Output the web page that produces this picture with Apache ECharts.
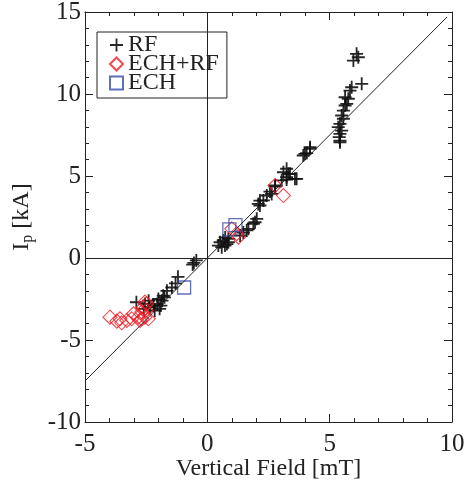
<!DOCTYPE html>
<html>
<head>
<meta charset="utf-8">
<script src="https://cdn.jsdelivr.net/npm/echarts@6/dist/echarts.min.js"></script>
<style>
  html, body { margin: 0; padding: 0; background: #fff; }
  #chart { width: 464px; height: 485px; }
</style>
</head>
<body>
<div id="chart"></div>
<script>
// points: [vertical field mT, Ip kA]
const rfPoints = [
  [-0.55, -0.3], [-0.45, -0.15], [-0.6, -0.4],
  [-1.2, -1.15], [-1.3, -1.55], [-1.45, -1.8], [-1.65, -2.0], [-1.75, -2.4],
  [-1.8, -2.3], [-1.85, -2.6], [-2.05, -2.8], [-2.2, -2.9], [-2.35, -3.0],
  [-2.9, -2.7], [-2.55, -2.8], [-2.6, -3.1], [-1.95, -3.1], [-2.15, -3.2],
  [-2.0, -2.5], [-1.9, -2.9], [-2.4, -2.6],
  [0.45, 0.76], [0.52, 0.96], [0.59, 0.66], [0.65, 1.07], [0.72, 0.76],
  [0.73, 1.25], [0.86, 1.17], [0.86, 0.96], [0.8, 0.85], [1.34, 1.37],
  [1.47, 1.55], [1.61, 1.68], [1.68, 1.78], [1.88, 2.09], [1.95, 2.18],
  [2.02, 2.39], [2.08, 3.3], [2.15, 3.2], [2.15, 3.5], [2.29, 3.51],
  [2.43, 3.81], [2.56, 4.05], [2.63, 3.91], [2.77, 4.35], [2.77, 4.42],
  [3.04, 4.73], [3.24, 4.93], [3.24, 4.78], [3.31, 5.13], [3.11, 5.23],
  [3.24, 5.44], [3.38, 5.13], [3.58, 4.83], [3.65, 4.83], [3.92, 6.25],
  [3.99, 6.35], [4.06, 6.4], [4.2, 6.66], [4.2, 6.76],
  [5.39, 7.37], [5.42, 7.16], [5.42, 7.06], [5.42, 7.57], [5.49, 7.77],
  [5.35, 7.98], [5.42, 8.18], [5.56, 8.49], [5.49, 8.69], [5.56, 8.99],
  [5.63, 9.3], [5.7, 9.4], [5.63, 9.8], [5.76, 9.71], [5.83, 10.21],
  [5.9, 10.41], [6.31, 10.62], [5.97, 12.04], [6.17, 12.24], [6.1, 12.45]
];
const echRfPoints = [
  [-3.98, -3.61], [-3.7, -3.85], [-3.57, -3.71], [-3.5, -3.95], [-3.29, -3.81],
  [-3.09, -3.71], [-3.02, -3.4], [-2.82, -3.61], [-2.75, -3.81], [-2.68, -3.3],
  [-2.68, -3.71], [-2.62, -3.0], [-2.55, -2.69], [-2.48, -2.79], [-2.55, -3.61],
  [-2.41, -3.71], [-2.5, -3.2],
  [1.0, 1.78], [1.2, 1.48], [1.27, 1.27], [2.77, 4.42], [3.11, 3.81]
];
const echPoints = [[-0.95, -1.8], [0.9, 1.75], [1.15, 2.0]];

// fitted line Ip = slope * B, drawn over this field range
const fitSlope = 1.5;
const fitRange = [-5, 9.8];

const xTicks = { min: -5, max: 10, step: 5 };
const yTicks = { min: -10, max: 15, step: 5 };

const font = "'Liberation Serif', 'Times New Roman', Times, serif";
const ink = '#222';
const plus = 'path://M4.3,0H5.7V4.3H10V5.7H5.7V10H4.3V5.7H0V4.3H4.3Z';

const fitLine = fitRange.map(b => [b, fitSlope * b]);

function axisBase(range, pos, labels, margin) {
  return {
    type: 'value', position: pos,
    min: range.min, max: range.max, interval: range.step,
    axisLine: { show: true, onZero: false, lineStyle: { color: ink, width: 1 } },
    axisTick: { show: true, inside: true, length: 8, lineStyle: { color: ink } },
    minorTick: { show: true, splitNumber: 5, length: 4, lineStyle: { color: ink } },
    splitLine: { show: false },
    axisLabel: { show: labels, fontFamily: font, fontSize: 25, color: ink, margin: margin }
  };
}

const chart = echarts.init(document.getElementById('chart'));
const xMain = axisBase(xTicks, 'bottom', true, 10);
xMain.name = 'Vertical Field [mT]';
xMain.nameLocation = 'middle';
xMain.nameGap = 35;
xMain.nameMoveOverlap = false;
xMain.nameTextStyle = { fontFamily: font, fontSize: 24, color: ink };
const yMain = axisBase(yTicks, 'left', true, 4);
yMain.name = '{i|I}{s|p}{n| [kA]}';
yMain.nameLocation = 'middle';
yMain.nameGap = 49;
yMain.nameMoveOverlap = false;
yMain.nameTextStyle = {
  fontFamily: font, color: ink,
  rich: {
    i: { fontFamily: font, fontSize: 24, color: ink, lineHeight: 28 },
    s: { fontFamily: font, fontSize: 16, color: ink, lineHeight: 28, verticalAlign: 'bottom', padding: [10, 0, 0, 0] },
    n: { fontFamily: font, fontSize: 24, color: ink, lineHeight: 28 }
  }
};

chart.setOption({
  animation: false,
  backgroundColor: '#fff',
  grid: { left: 85, right: 12, top: 12, bottom: 63, outerBoundsMode: 'none' },
  legend: {
    orient: 'vertical', left: 97, top: 32,
    padding: [1, 8, 3, 12], itemGap: -5,
    itemWidth: 13, itemHeight: 13,
    borderColor: ink, borderWidth: 1,
    textStyle: { fontFamily: font, fontSize: 24, color: ink },
    data: [
      { name: 'RF', icon: plus },
      { name: 'ECH+RF', icon: 'diamond' },
      { name: 'ECH', icon: 'rect' }
    ]
  },
  xAxis: [xMain, axisBase(xTicks, 'top', false, 8)],
  yAxis: [yMain, axisBase(yTicks, 'right', false, 8)],
  series: [
    {
      type: 'line', data: fitLine, symbol: 'none', silent: true,
      lineStyle: { color: ink, width: 1 },
      markLine: {
        silent: true, symbol: 'none', label: { show: false },
        lineStyle: { color: ink, width: 1, type: 'solid' },
        data: [{ xAxis: 0 }, { yAxis: 0 }]
      }
    },
    {
      name: 'RF', type: 'scatter', data: rfPoints, symbol: plus, symbolSize: 13,
      itemStyle: { color: '#111', opacity: 0.9 }
    },
    {
      name: 'ECH+RF', type: 'scatter', data: echRfPoints, symbol: 'diamond', symbolSize: 14,
      itemStyle: { color: 'rgba(0,0,0,0)', borderColor: '#ec1c24', borderWidth: 1.1 }
    },
    {
      name: 'ECH', type: 'scatter', data: echPoints, symbol: 'rect', symbolSize: 13,
      itemStyle: { color: 'rgba(0,0,0,0)', borderColor: '#3a4aa6', borderWidth: 1.3 }
    }
  ]
});
</script>
</body>
</html>
